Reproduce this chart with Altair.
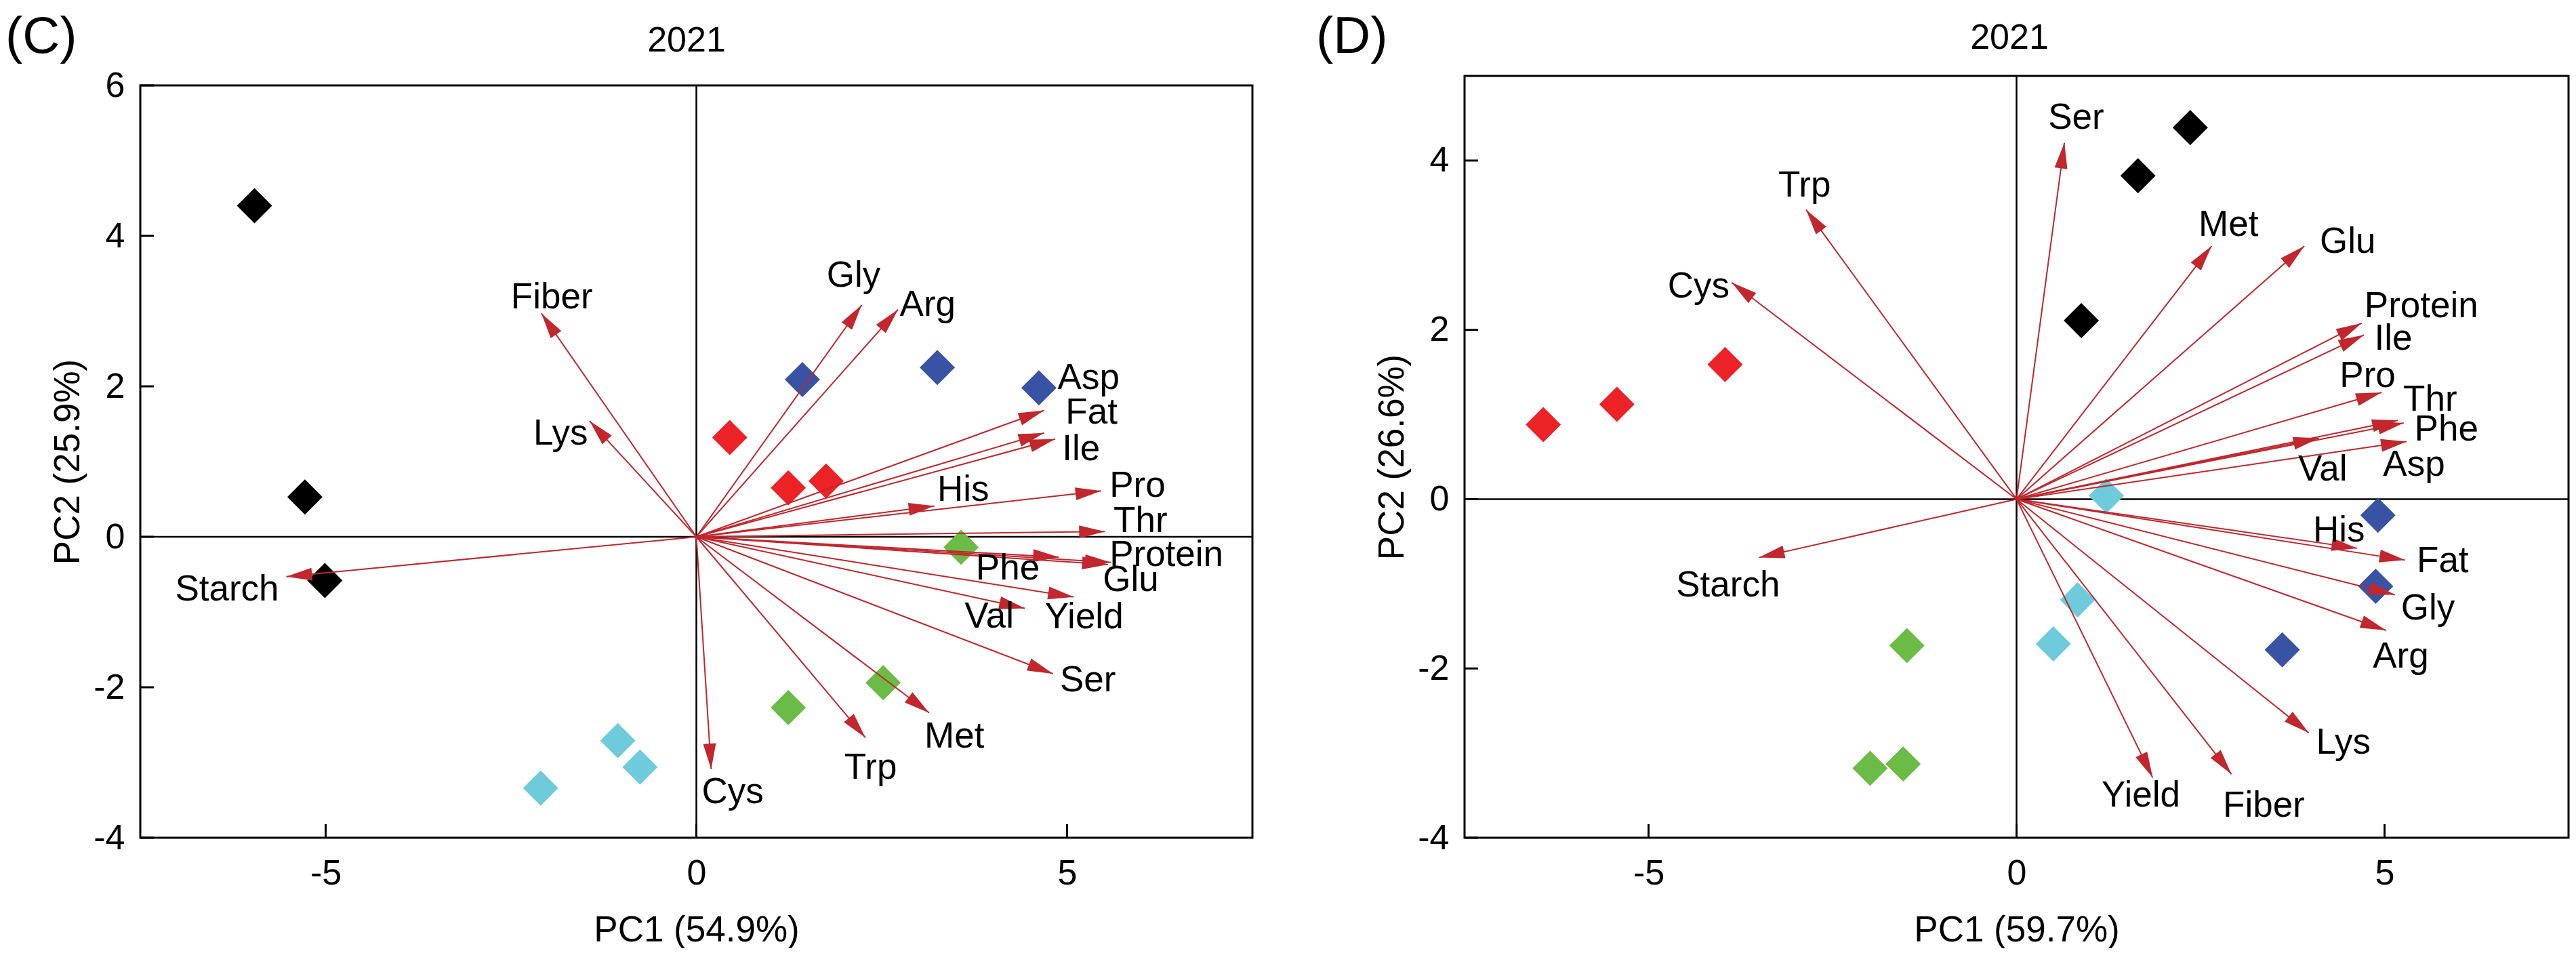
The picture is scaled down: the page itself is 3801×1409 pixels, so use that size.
import math
import altair as alt
import pandas as pd

FONT = "Liberation Sans"
ARROW_COLOR = "#c1272d"
GROUPS = ["G1", "G2", "G3", "G4", "G5"]
GROUP_COLORS = ["#000000", "#3953a4", "#ec2227", "#6bbc46", "#6ecbdb"]
point_group = ["G1"] * 3 + ["G2"] * 3 + ["G3"] * 3 + ["G4"] * 3 + ["G5"] * 3

# ---------------- Panel C ----------------
c_pc1 = [-5.96, -5.28, -5.01, 1.43, 3.25, 4.62, 0.45, 1.24, 1.75, 3.57, 2.52, 1.24, -1.06, -0.76, -2.10]
c_pc2 = [4.40, 0.53, -0.58, 2.09, 2.25, 1.98, 1.32, 0.65, 0.74, -0.14, -1.94, -2.27, -2.71, -3.06, -3.34]

c_vars = ["Fiber", "Lys", "Starch", "Cys", "Gly", "Arg", "Asp", "Fat", "Ile", "His",
          "Pro", "Thr", "Protein", "Glu", "Phe", "Yield", "Val", "Ser", "Met", "Trp"]
c_tip_x = [-2.09, -1.44, -5.53, 0.20, 2.23, 2.72, 4.69, 4.69, 4.84, 3.21,
           5.46, 5.51, 5.59, 5.55, 4.89, 5.09, 4.43, 4.81, 3.14, 2.28]
c_tip_y = [2.97, 1.54, -0.53, -3.09, 3.08, 3.02, 1.68, 1.38, 1.30, 0.41,
           0.61, 0.07, -0.34, -0.37, -0.27, -0.80, -0.95, -1.82, -2.34, -2.67]
c_lab_x = [-1.95, -1.83, -6.33, 0.49, 2.12, 3.12, 5.29, 5.33, 5.19, 3.60,
           5.95, 5.99, 6.34, 5.86, 4.20, 5.23, 3.95, 5.28, 3.48, 2.35]
c_lab_y = [3.18, 1.37, -0.70, -3.40, 3.47, 3.08, 2.11, 1.65, 1.16, 0.62,
           0.68, 0.21, -0.24, -0.58, -0.42, -1.07, -1.06, -1.91, -2.66, -3.07]

# ---------------- Panel D ----------------
d_pc1 = [2.36, 1.65, 0.88, 4.91, 4.88, 3.61, -6.43, -5.43, -3.96, -1.49, -1.99, -1.54, 1.22, 0.83, 0.50]
d_pc2 = [4.39, 3.82, 2.11, -0.19, -1.03, -1.78, 0.88, 1.12, 1.59, -1.73, -3.18, -3.13, 0.04, -1.19, -1.71]

d_vars = ["Ser", "Trp", "Cys", "Met", "Glu", "Protein", "Ile", "Pro", "Thr", "Phe",
          "Val", "Asp", "Starch", "His", "Fat", "Gly", "Arg", "Lys", "Yield", "Fiber"]
d_tip_x = [0.65, -2.86, -3.87, 2.65, 3.91, 4.69, 4.72, 4.96, 5.18, 5.26,
           4.11, 5.30, -3.50, 4.63, 5.28, 5.14, 5.02, 3.97, 1.85, 2.92]
d_tip_y = [4.21, 3.42, 2.56, 2.99, 2.99, 2.08, 1.94, 1.26, 0.93, 0.90,
           0.72, 0.68, -0.69, -0.58, -0.72, -1.13, -1.55, -2.76, -3.29, -3.25]
d_lab_x = [0.81, -2.88, -4.32, 2.88, 4.50, 5.50, 5.12, 4.77, 5.62, 5.84,
           4.16, 5.40, -3.92, 4.38, 5.79, 5.59, 5.22, 4.44, 1.69, 3.36]
d_lab_y = [4.50, 3.70, 2.51, 3.24, 3.04, 2.28, 1.89, 1.45, 1.17, 0.82,
           0.35, 0.40, -1.02, -0.37, -0.73, -1.29, -1.86, -2.88, -3.50, -3.62]

x_ticks = [-5, 0, 5]
c_y_ticks = [-4, -2, 0, 2, 4, 6]
d_y_ticks = [-4, -2, 0, 2, 4]

# axis frames (data limits of each panel's box)
c_frame = {"x": [-7.5, 7.5], "y": [-4, 6]}
d_frame = {"x": [-7.5, 7.5], "y": [-4, 5]}

HEAD = "M0,0L-2,-0.5L-2,0.5Z"


def panel(tag, year, pc1, pc2, names, tx, ty, lx, ly, xtitle, ytitle, yticks,
          frame, top_gap, width, height, tag_dx, tag_dy, year_dx, year_dy):
    fx, fy = frame["x"], frame["y"]
    box_h = height - top_gap
    kx = width / (fx[1] - fx[0])
    ky = box_h / (fy[1] - fy[0])
    ydom = [fy[0], fy[1] + top_gap / ky]
    xs = alt.Scale(domain=fx, nice=False, zero=False)
    ys = alt.Scale(domain=ydom, nice=False, zero=False)
    xaxis = alt.Axis(values=x_ticks, title=xtitle, grid=False, domain=False, ticks=False,
                     tickSize=0, labelFontSize=52, labelPadding=27, labelFont=FONT,
                     labelColor="black", labelOverlap=False,
                     labelExpr="toString(datum.value)",
                     titleFont=FONT, titleFontSize=53, titleFontWeight="normal",
                     titleColor="black", titleY=152, titleBaseline="alphabetic")
    yaxis = alt.Axis(values=yticks, title=ytitle, grid=False, domain=False, ticks=False,
                     tickSize=0, labelFontSize=52, labelPadding=23, labelFont=FONT,
                     labelColor="black", labelOverlap=False,
                     labelExpr="toString(datum.value)",
                     titleFont=FONT, titleFontSize=53, titleFontWeight="normal",
                     titleColor="black", titleX=-107, titleAngle=270,
                     titleBaseline="middle", titleAlign="center",
                     titleY=top_gap + box_h / 2)

    def X(f):
        return alt.X(f, type="quantitative", scale=xs, axis=xaxis)

    def Y(f):
        return alt.Y(f, type="quantitative", scale=ys, axis=yaxis)

    pts = pd.DataFrame({"pc1": pc1, "pc2": pc2, "group": point_group})
    vec = pd.DataFrame({"name": names, "tx": tx, "ty": ty, "lx": lx, "ly": ly})
    vec["x0"] = 0.0
    vec["y0"] = 0.0
    vec["ang"] = [
        math.degrees(math.atan2(-b * ky, a * kx)) % 360 for a, b in zip(tx, ty)
    ]
    fr = pd.DataFrame({"x1": [fx[0]], "x2": [fx[1]], "y1": [fy[0]], "y2": [fy[1]],
                       "z": [0.0]})

    box = alt.Chart(fr).mark_rect(fill=None, stroke="black", strokeWidth=3).encode(
        x=X("x1"), x2="x2:Q", y=Y("y1"), y2="y2:Q")
    zero_v = alt.Chart(fr).mark_rule(color="black", strokeWidth=2.5).encode(
        x=X("z"), y=Y("y1"), y2="y2:Q")
    zero_h = alt.Chart(fr).mark_rule(color="black", strokeWidth=2.5).encode(
        y=Y("z"), x=X("x1"), x2="x2:Q")
    xt = alt.Chart(pd.DataFrame({"v": x_ticks})).mark_rule(
        color="black", strokeWidth=3).encode(
        x=X("v"), y=alt.value(height), y2=alt.value(height - 20))
    yt = alt.Chart(pd.DataFrame({"v": yticks})).mark_rule(
        color="black", strokeWidth=3).encode(
        y=Y("v"), x=alt.value(0), x2=alt.value(20))

    points = alt.Chart(pts).mark_point(
        shape="diamond", size=2704, filled=True, opacity=1, strokeWidth=0).encode(
        x=X("pc1"), y=Y("pc2"),
        color=alt.Color("group:N", scale=alt.Scale(domain=GROUPS, range=GROUP_COLORS),
                        legend=None))

    lines = alt.Chart(vec).mark_rule(color=ARROW_COLOR, strokeWidth=2).encode(
        x=X("x0"), y=Y("y0"), x2="tx:Q", y2="ty:Q")
    heads = alt.Chart(vec).mark_point(
        shape=HEAD, size=1444, filled=True, color=ARROW_COLOR, opacity=1,
        strokeWidth=0).encode(
        x=X("tx"), y=Y("ty"), angle=alt.Angle("ang:Q", scale=None))
    labels = alt.Chart(vec).mark_text(
        font=FONT, fontSize=53, align="center", baseline="middle", color="black").encode(
        x=X("lx"), y=Y("ly"), text="name:N")

    tag_t = alt.Chart(pd.DataFrame({"t": [tag]})).mark_text(
        font=FONT, fontSize=76, align="left", baseline="alphabetic", color="black").encode(
        text="t:N", x=alt.value(tag_dx), y=alt.value(tag_dy))
    year_t = alt.Chart(pd.DataFrame({"t": [year]})).mark_text(
        font=FONT, fontSize=52, align="center", baseline="alphabetic", color="black").encode(
        text="t:N", x=alt.value(year_dx), y=alt.value(year_dy))

    return alt.layer(zero_v, zero_h, xt, yt, points, lines, heads, labels, box,
                     tag_t, year_t).properties(width=width, height=height)


# both plot areas start at the same top; panel C's box starts 14 px lower
chart_c = panel("(C)", "2021", c_pc1, c_pc2, c_vars, c_tip_x, c_tip_y, c_lab_x, c_lab_y,
                "PC1 (54.9%)", "PC2 (25.9%)", c_y_ticks, c_frame, 14,
                1641, 1124, -199, -34, 806, -36)
chart_d = panel("(D)", "2021", d_pc1, d_pc2, d_vars, d_tip_x, d_tip_y, d_lab_x, d_lab_y,
                "PC1 (59.7%)", "PC2 (26.6%)", d_y_ticks, d_frame, 0,
                1629, 1124, -219, -34, 804, -40)

chart = alt.concat(chart_c, chart_d, columns=2, spacing=92, align="none",
                   bounds="full",
                   padding={"left": 0, "top": 9, "right": 0, "bottom": 0}).configure(
    font=FONT).configure_view(strokeWidth=0)

chart.save("out.html", embed_options={"renderer": "svg", "actions": False})
